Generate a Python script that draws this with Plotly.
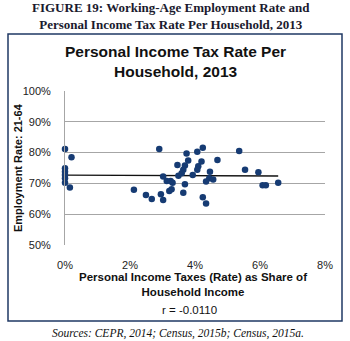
import numpy as np
import plotly.graph_objects as go

# Data (x: personal income tax rate %, y: employment rate %)
tax_rate = [0, 0.2, 0, 0, 0, 0, 0, 0.15, 2.12, 2.49, 2.67, 2.9, 2.95, 3.02, 3.02,
            3.13, 3.25, 3.31, 3.21, 3.28, 3.46, 3.49, 3.74, 3.69, 3.79, 3.64, 3.59,
            3.69, 3.64, 4.07, 4.24, 5.36, 4.2, 4.69, 4.1, 4.07, 3.93, 4.46, 5.54,
            4.44, 4.56, 4.34, 4.24, 4.34, 5.95, 6.56, 6.08, 6.18]
emp_rate = [81.2, 78.5, 74.9, 73.8, 72.7, 71.7, 70.2, 68.7, 67.9, 66.2, 64.9, 81.2,
            66.5, 64.6, 72.2, 70.8, 70.8, 70.2, 67.5, 68.1, 76.0, 72.5, 79.7, 75.8,
            77.4, 74.4, 73.3, 69.7, 67.0, 80.3, 81.6, 80.5, 77.1, 77.6, 75.6, 74.4,
            72.7, 73.8, 74.4, 71.7, 71.3, 70.6, 65.5, 63.5, 73.6, 70.2, 69.4, 69.4]
x_ticks = [0, 2, 4, 6, 8]
y_ticks = [50, 60, 70, 80, 90, 100]

xa = np.array(tax_rate) / 100
ya = np.array(emp_rate) / 100
slope, intercept = np.polyfit(xa, ya, 1)
trend_x = np.array([xa.min(), xa.max()])
trend_y = slope * trend_x + intercept

W, H = 350, 341
L, R, T, B = 65, 25, 91, 96
pw, ph = W - L - R, H - T - B

def px(x):
    return (x - L) / pw

def py(y):
    return (H - B - y) / ph

fig = go.Figure()
fig.add_trace(go.Scatter(x=trend_x, y=trend_y, mode="lines",
                         line=dict(color="#111111", width=1.3),
                         hoverinfo="skip", showlegend=False))
fig.add_trace(go.Scatter(x=xa, y=ya, mode="markers", cliponaxis=False,
                         marker=dict(color="#163b73", size=6.5),
                         showlegend=False))

fig.update_layout(
    width=W, height=H,
    margin=dict(l=L, r=R, t=T, b=B),
    paper_bgcolor="white", plot_bgcolor="white",
    font=dict(family="Liberation Sans, Arial, sans-serif", color="#222222"),
    xaxis=dict(range=[0, 0.08], tickvals=[v / 100 for v in x_ticks],
               ticktext=[f"{v}%" for v in x_ticks], showgrid=False,
               zeroline=False, showline=False, ticks="outside", ticklen=10,
               tickcolor="rgba(0,0,0,0)",
               tickfont=dict(size=11, color="#222222")),
    yaxis=dict(range=[0.5, 1.0], tickvals=[v / 100 for v in y_ticks],
               ticktext=[f"{v}%" for v in y_ticks], showgrid=True,
               gridcolor="#a6a6a6", gridwidth=1, zeroline=False,
               showline=True, linecolor="#a6a6a6", ticks="outside", ticklen=11,
               tickcolor="rgba(0,0,0,0)",
               tickfont=dict(size=11, color="#222222")),
)

shapes = [
    dict(type="rect", xref="paper", yref="paper",
         x0=px(8), x1=px(342), y0=py(321), y1=py(34),
         line=dict(color="#1f3864", width=1.5), fillcolor="rgba(0,0,0,0)"),
]
fig.update_layout(shapes=shapes)

ann = [
    dict(text="<b>FIGURE 19: Working-Age Employment Rate and<br>Personal Income Tax Rate Per Household, 2013</b>",
         x=px(171), y=py(16.5),
         font=dict(family="Liberation Serif, serif", size=13, color="#1a1a2e")),
    dict(text="<b>Personal Income Tax Rate Per<br>Household, 2013</b>",
         x=px(175), y=py(61), font=dict(family="Liberation Sans, Arial, sans-serif", size=15.5, color="#111111")),
    dict(text="<b>Employment Rate: 21-64</b>", textangle=-90,
         x=px(18), y=py(168), font=dict(size=11, color="#111111")),
    dict(text="<b>Personal Income Taxes (Rate) as Share of<br>Household Income</b>",
         x=px(193), y=py(284), font=dict(size=11.5, color="#111111")),
    dict(text="r = -0.0110",
         x=px(189), y=py(310), font=dict(size=11.5, color="#111111")),
    dict(text="<i>Sources: CEPR, 2014; Census, 2015b; Census, 2015a.</i>",
         x=px(178), y=py(333), font=dict(family="Liberation Serif, serif", size=11.5, color="#111111")),
]
for a in ann:
    a.update(xref="paper", yref="paper", showarrow=False, xanchor="center", yanchor="middle")
fig.update_layout(annotations=ann)

fig.write_html("out.html")
